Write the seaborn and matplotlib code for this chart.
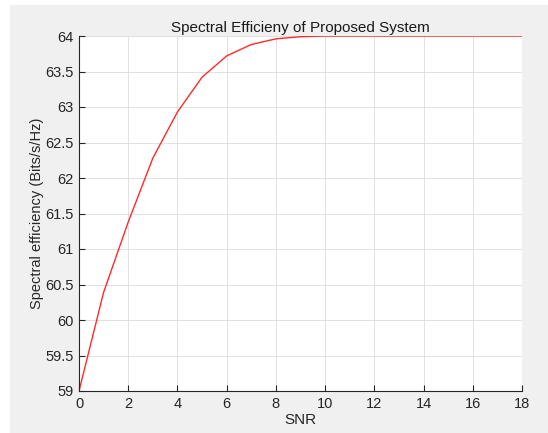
import matplotlib
matplotlib.use("Agg")
import matplotlib.pyplot as plt
import seaborn as sns
import pandas as pd
from matplotlib.ticker import FuncFormatter
from matplotlib.patches import Rectangle

snr = list(range(0, 19))
efficiency = [59.0, 60.39, 61.38, 62.28, 62.93, 63.42, 63.72, 63.88, 63.96, 63.99,
              64.0, 64.0, 64.0, 64.0, 64.0, 64.0, 64.0, 64.0, 64.0]
x_ticks = list(range(0, 19, 2))
y_ticks = [59, 59.5, 60, 60.5, 61, 61.5, 62, 62.5, 63, 63.5, 64]

sns.set_theme(style="white")
plt.rcParams['font.family'] = ['Liberation Sans', 'DejaVu Sans']

df = pd.DataFrame({"SNR": snr, "eff": efficiency})

fig = plt.figure(figsize=(5.48, 4.33), dpi=100, facecolor="#f0f0f0")
# screenshot white border (top and left)
fig.patches.append(Rectangle((0, 1 - 5/433), 1, 5/433, transform=fig.transFigure,
                             facecolor="white", edgecolor="none", zorder=0))
fig.patches.append(Rectangle((0, 0), 10/548, 1, transform=fig.transFigure,
                             facecolor="white", edgecolor="none", zorder=0))

ax = fig.add_axes([79/548, 42/433, (522-79)/548, (391-36)/433])
ax.set_facecolor("white")

sns.lineplot(data=df, x="SNR", y="eff", ax=ax, color="#ff2a2a", linewidth=1.0)

ax.set_xlim(0, 18)
ax.set_ylim(59, 64)
ax.set_xticks(x_ticks)
ax.set_yticks(y_ticks)
ax.yaxis.set_major_formatter(FuncFormatter(lambda v, p: f"{v:g}"))

ax.grid(True, color="#dcdcdc", linewidth=0.6)
ax.set_axisbelow(True)
for s in ["top", "right"]:
    ax.spines[s].set_visible(False)
for s in ["left", "bottom"]:
    ax.spines[s].set_color("#262626")
    ax.spines[s].set_linewidth(0.8)

ax.tick_params(axis="both", direction="in", length=4, width=0.8, color="#262626",
               labelsize=10.5, labelcolor="#262626", left=True, bottom=True, pad=4)

ax.set_xlabel("SNR", fontsize=11, color="#262626", labelpad=2)
ax.set_ylabel("Spectral efficiency (Bits/s/Hz)", fontsize=10.5, color="#262626", labelpad=1)
ax.set_title("Spectral Efficieny of Proposed System", fontsize=11, color="#1a1a1a", pad=3)

fig.savefig("out.png", dpi=100, facecolor=fig.get_facecolor())
